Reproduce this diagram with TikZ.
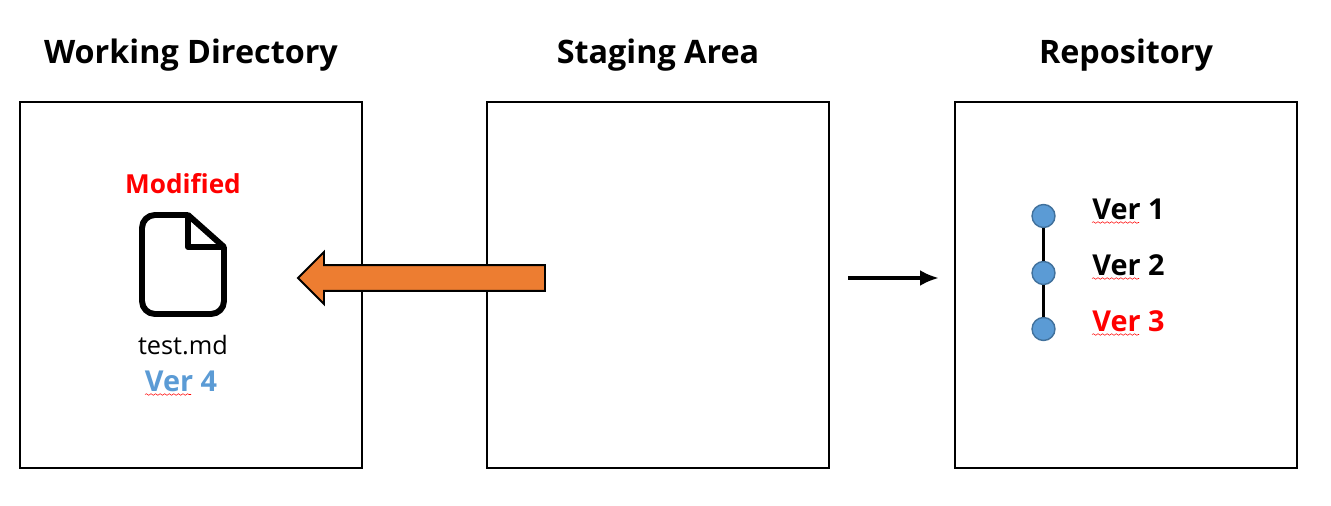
\documentclass[tikz,border=0pt]{standalone}
\usepackage{fontspec}
\setmainfont{Open Sans}
\usetikzlibrary{shapes.arrows, arrows.meta, positioning, decorations.pathmorphing}
\definecolor{verblue}{HTML}{5B9BD5}
\definecolor{verborder}{HTML}{41719C}
\definecolor{blockorange}{HTML}{ED7D31}
\tikzstyle{area} = [rectangle, minimum width=6.84cm, minimum height=7.32cm, draw=black, line width=1.1pt]
\tikzstyle{areatitle} = [font=\fontsize{18.4}{22}\selectfont\bfseries, inner sep=0pt]
\tikzstyle{verlabel} = [font=\fontsize{16.4}{20}\selectfont\bfseries, inner sep=0pt]
\tikzstyle{verdot} = [circle, minimum size=0.46cm, inner sep=0pt, draw=verborder, line width=0.8pt, fill=verblue]
\tikzstyle{squiggle} = [draw=red, line width=0.3pt, decorate, decoration={snake, amplitude=0.45pt, segment length=2.6pt}]

\begin{document}
\begin{tikzpicture}[x=0.02cm, y=-0.02cm]
\useasboundingbox (0,0) rectangle (1331,506);

% Three areas
\node (working) [area] at (191,285) {};
\node (staging) [area] at (658,285) {};
\node (repo) [area] at (1126,285) {};

% Titles
\node (workingtitle) [areatitle, above=0.58cm of working] {Working Directory};
\node (stagingtitle) [areatitle, above=0.58cm of staging] {Staging Area};
\node (repotitle) [areatitle, above=0.58cm of repo] {Repository};

% File icon
\draw [black, line width=3.4pt, line join=round, rounded corners=0.26cm] (188,215) -- (142,215) -- (142,314) -- (224,314) -- (224,247);
\draw [black, line width=3.4pt, line join=round] (224,247) -- (188,215) -- (188,247) -- cycle;

% Working directory texts
\node (modified) [verlabel, font=\fontsize{14.9}{20}\selectfont\bfseries, text=red] at (183,184) {Modified};
\node (testmd) [font=\fontsize{14.4}{20}\selectfont, inner sep=0pt] at (183,345) {test.md};
\node (ver4) [verlabel, text=verblue] at (181,381) {Ver 4};
\draw [squiggle] (145,394.5) -- (191,394.5);

% Arrows
\node (restore) [single arrow, single arrow head extend=0.26cm, shape border rotate=180, minimum height=4.94cm, inner xsep=0pt, inner ysep=0.24cm, draw=black, line width=1.1pt, fill=blockorange] at (428,278) {};
\coordinate (commitstart) at (848,278);
\coordinate (commitend) at (939,278);
\draw [-{Latex[length=0.38cm, width=0.32cm]}, black, line width=2.2pt] (commitstart) -- (commitend);

% History
\node (dot1) [verdot] at (1043.5,216) {};
\node (dot2) [verdot] at (1043.5,273) {};
\node (dot3) [verdot] at (1043.5,329) {};
\draw [black, line width=1.5pt] (dot1) -- (dot2);
\draw [black, line width=1.5pt] (dot2) -- (dot3);

\node (ver1) [verlabel, anchor=west] at (1092,209.5) {Ver 1};
\node (ver2) [verlabel, anchor=west] at (1092,265.5) {Ver 2};
\node (ver3) [verlabel, anchor=west, text=red] at (1092,321.5) {Ver 3};
\draw [squiggle] (1092,222.5) -- (1139,222.5);
\draw [squiggle] (1092,278.5) -- (1139,278.5);
\draw [squiggle] (1092,334.5) -- (1139,334.5);

\end{tikzpicture}
\end{document}
